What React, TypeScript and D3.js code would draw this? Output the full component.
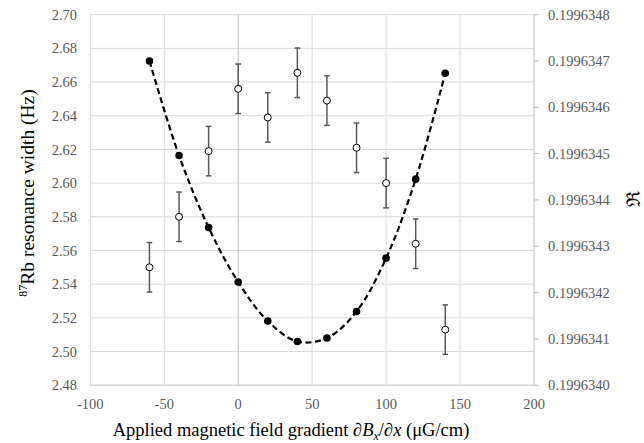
import React from "react";
import * as d3 from "d3";

const xs = [-60, -40, -20, 0, 20, 40, 60, 80, 100, 120, 140];
const widthValues = [2.550, 2.580, 2.619, 2.656, 2.639, 2.6655, 2.649, 2.621, 2.600, 2.564, 2.513];
const widthErrors = [0.0147, 0.0147, 0.0147, 0.0147, 0.0147, 0.0147, 0.0147, 0.0147, 0.0147, 0.0147, 0.0147];
const ratioValues = [0.19963470, 0.199634496, 0.1996343405, 0.1996342227, 0.1996341385, 0.1996340945, 0.1996341018, 0.1996341592, 0.1996342744, 0.1996344449, 0.1996346736];
const xTicks = [-100, -50, 0, 50, 100, 150, 200];
const leftTicks = [2.48, 2.5, 2.52, 2.54, 2.56, 2.58, 2.6, 2.62, 2.64, 2.66, 2.68, 2.7];
const rightTicks = [0.199634, 0.1996341, 0.1996342, 0.1996343, 0.1996344, 0.1996345, 0.1996346, 0.1996347, 0.1996348];

const W = 644;
const H = 443;
const left = 90.3;
const right = 534;
const top = 14.7;
const bottom = 385.2;

const serif = '"Liberation Serif", "Times New Roman", Times, "DejaVu Serif", serif';
const fstyle = { fontFamily: serif };

export default function App() {
  const x = d3.scaleLinear().domain([-100, 200]).range([left, right]);
  const yL = d3.scaleLinear().domain([2.48, 2.7]).range([bottom, top]);
  const yR = d3.scaleLinear().domain([0.199634, 0.1996348]).range([bottom, top]);
  const line = d3
    .line<number>()
    .x((_, i) => x(xs[i]))
    .y((d) => yR(d))
    .curve(d3.curveCatmullRom.alpha(0.5));
  const tickColor = "#595959";
  return (
    <svg width={W} height={H} style={{ position: "absolute", left: 0, top: 0, background: "#fff", fontFamily: serif }}>
      {leftTicks.map((t) => (
        <line key={"h" + t} x1={left} x2={right} y1={yL(t)} y2={yL(t)} stroke={t === 2.48 ? "#bfbfbf" : "#d9d9d9"} strokeWidth={1} />
      ))}
      {xTicks.map((t) => (
        <line key={"v" + t} x1={x(t)} x2={x(t)} y1={top} y2={bottom} stroke={t === 0 || t === 200 ? "#bfbfbf" : "#d9d9d9"} strokeWidth={1} />
      ))}
      {rightTicks.map((t) => (
        <line key={"rt" + t} x1={right} x2={right + 5} y1={yR(t)} y2={yR(t)} stroke="#bfbfbf" strokeWidth={1} />
      ))}
      {leftTicks.map((t) => (
        <text key={"lt" + t} x={77} y={yL(t)} dy="0.35em" textAnchor="end" fontSize={14.5} fill={tickColor} style={fstyle}>
          {t.toFixed(2)}
        </text>
      ))}
      {rightTicks.map((t) => (
        <text key={"rl" + t} x={548} y={yR(t)} dy="0.35em" textAnchor="start" fontSize={14.5} fill={tickColor} style={fstyle}>
          {t.toFixed(7)}
        </text>
      ))}
      {xTicks.map((t) => (
        <text key={"xl" + t} x={x(t)} y={404} dy="0.35em" textAnchor="middle" fontSize={14.5} fill={tickColor} style={fstyle}>
          {t}
        </text>
      ))}
      {xs.map((xv, i) => {
        const cx = x(xv);
        const y1 = yL(widthValues[i] + widthErrors[i]);
        const y2 = yL(widthValues[i] - widthErrors[i]);
        return (
          <g key={"e" + xv} stroke="#595959" strokeWidth={1.5}>
            <line x1={cx} x2={cx} y1={y1} y2={y2} />
            <line x1={cx - 2.8} x2={cx + 2.8} y1={y1} y2={y1} />
            <line x1={cx - 2.8} x2={cx + 2.8} y1={y2} y2={y2} />
          </g>
        );
      })}
      <path d={line(ratioValues) || ""} fill="none" stroke="#000" strokeWidth={2.2} strokeDasharray="6,3.5" />
      {xs.map((xv, i) => (
        <circle key={"f" + xv} cx={x(xv)} cy={yR(ratioValues[i])} r={3.8} fill="#000" />
      ))}
      {xs.map((xv, i) => (
        <circle key={"o" + xv} cx={x(xv)} cy={yL(widthValues[i])} r={3.5} fill="#fff" stroke="#000" strokeWidth={1} />
      ))}
      <text transform="translate(34,193) rotate(-90)" textAnchor="middle" fontSize={19.5} fill="#000" style={fstyle}>
        <tspan fontSize={12} dy="-7">87</tspan>
        <tspan dy="7">Rb resonance width (Hz)</tspan>
      </text>
      <text transform="translate(640,199) rotate(-90)" textAnchor="middle" fontSize={19} fill="#000" style={fstyle}>
        ℜ
      </text>
      <text x={291} y={436} textAnchor="middle" fontSize={18.5} fill="#000" style={fstyle}>
        <tspan>Applied magnetic field gradient ∂</tspan>
        <tspan fontStyle="italic">B</tspan>
        <tspan fontStyle="italic" fontSize={12} dy="4">x</tspan>
        <tspan dy="-4">/∂</tspan>
        <tspan fontStyle="italic">x</tspan>
        <tspan> (μG/cm)</tspan>
      </text>
    </svg>
  );
}
